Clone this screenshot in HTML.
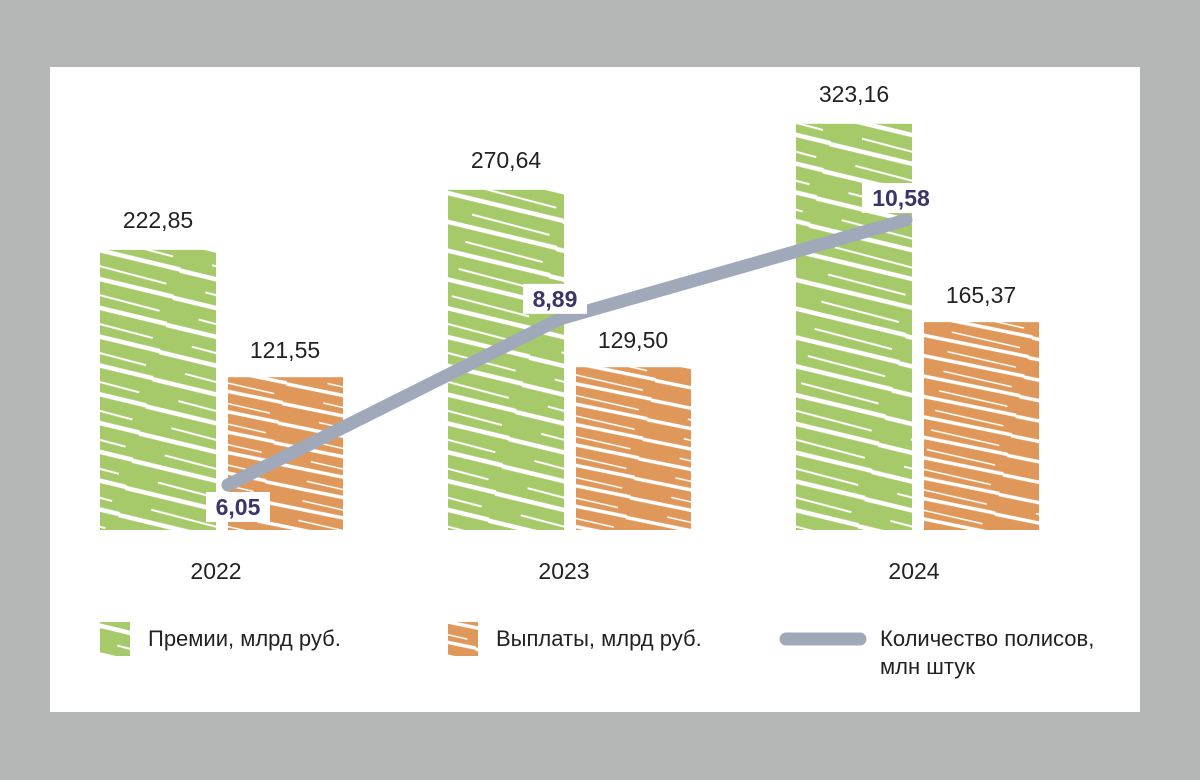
<!DOCTYPE html>
<html><head><meta charset="utf-8"><style>
body{margin:0;width:1200px;height:780px;background:#b4b7b6;overflow:hidden;font-family:"Liberation Sans",sans-serif}
#panel{position:absolute;left:50px;top:67px;width:1090px;height:645px;background:#fff}
svg{position:absolute;left:0;top:0}
</style></head><body>
<div id="panel"></div>
<svg id="chart" width="1200" height="780">
<defs>
<pattern id="hg" width="120" height="28" patternUnits="userSpaceOnUse" patternTransform="rotate(14)">
<rect width="120" height="28" fill="#a6c96a"/><path d="M0 23 L120 22" stroke="#fff" stroke-width="4.5"/><path d="M30 10 L110 11" stroke="#fff" stroke-width="2"/></pattern>
<pattern id="ho" width="120" height="20" patternUnits="userSpaceOnUse" patternTransform="rotate(12)">
<rect width="120" height="20" fill="#e0985a"/><path d="M0 16 L120 15" stroke="#fff" stroke-width="3.5"/><path d="M40 7 L110 8" stroke="#fff" stroke-width="1.5"/></pattern>
</defs>
<g id="bars"></g><g id="line"></g><g id="labels"></g>
<g font-size="22" fill="#222">
<rect x="100" y="622" width="30" height="34" fill="url(#hg)"/>
<text x="148" y="646">Премии, млрд руб.</text>
<rect x="448" y="622" width="30" height="34" fill="url(#ho)"/>
<text x="496" y="646">Выплаты, млрд руб.</text>
<line x1="786" y1="639" x2="860" y2="639" stroke="#a0a9ba" stroke-width="13" stroke-linecap="round"/>
<text x="880" y="646">Количество полисов,</text>
<text x="880" y="674">млн штук</text>
</g>
</svg>
<script>
const years=["2022","2023","2024"];
const premiums=[222.85,270.64,323.16];
const payouts=[121.55,129.50,165.37];
const policies=[6.05,8.89,10.58];
const premLabels=["222,85","270,64","323,16"];
const payLabels=["121,55","129,50","165,37"];
const polLabels=["6,05","8,89","10,58"];
const NS="http://www.w3.org/2000/svg";
const base=530;
const xc=i=>222+i*348;
const yb=v=>base-v*1.257;
const yl=v=>485-(v-6.05)*58.5;
function mk(tag,attrs,parent){const e=document.createElementNS(NS,tag);for(const k in attrs)e.setAttribute(k,attrs[k]);parent.appendChild(e);return e;}
const gB=document.getElementById('bars'),gL=document.getElementById('line'),gT=document.getElementById('labels');
years.forEach((y,i)=>{
 const c=xc(i);
 let r=mk('rect',{x:c-122,y:yb(premiums[i]),width:116,height:premiums[i]*1.257,fill:'url(#hg)'},gB);
 
 
 r=mk('rect',{x:c+6,y:yb(payouts[i]),width:115,height:payouts[i]*1.257,fill:'url(#ho)'},gB);
 
 
 let t=mk('text',{x:c-64,y:yb(premiums[i])-22,'font-size':23,fill:'#222','text-anchor':'middle'},gT);t.textContent=premLabels[i];
 
 
 t=mk('text',{x:c+63,y:yb(payouts[i])-19,'font-size':23,fill:'#222','text-anchor':'middle'},gT);t.textContent=payLabels[i];
 
 
 t=mk('text',{x:c-6+(i===2?2:0),y:579,'font-size':23,fill:'#222','text-anchor':'middle'},gT);t.textContent=y;
 
 
});
const lx=[xc(0)+6,xc(1)-10,xc(2)-12];
const pts=policies.map((v,i)=>lx[i]+','+yl(v)).join(' ');
const pl=mk('polyline',{points:pts,fill:'none',stroke:'#a0a9ba','stroke-width':13,'stroke-linecap':'round','stroke-linejoin':'round'},gL);


const off=[[10,22],[-5,-20],[-5,-22]];
policies.forEach((v,i)=>{
 const x=lx[i]+off[i][0],y=yl(v)+off[i][1];
 const w=polLabels[i].length*14+8;
 const b=mk('rect',{x:x-w/2,y:y-15,width:w,height:30,fill:'#fff'},gT);
 
 
 const t=mk('text',{x:x,y:y+8,'font-size':23,'font-weight':'bold',fill:'#3b3468','text-anchor':'middle'},gT);t.textContent=polLabels[i];
 
 
});
</script>
</body></html>
